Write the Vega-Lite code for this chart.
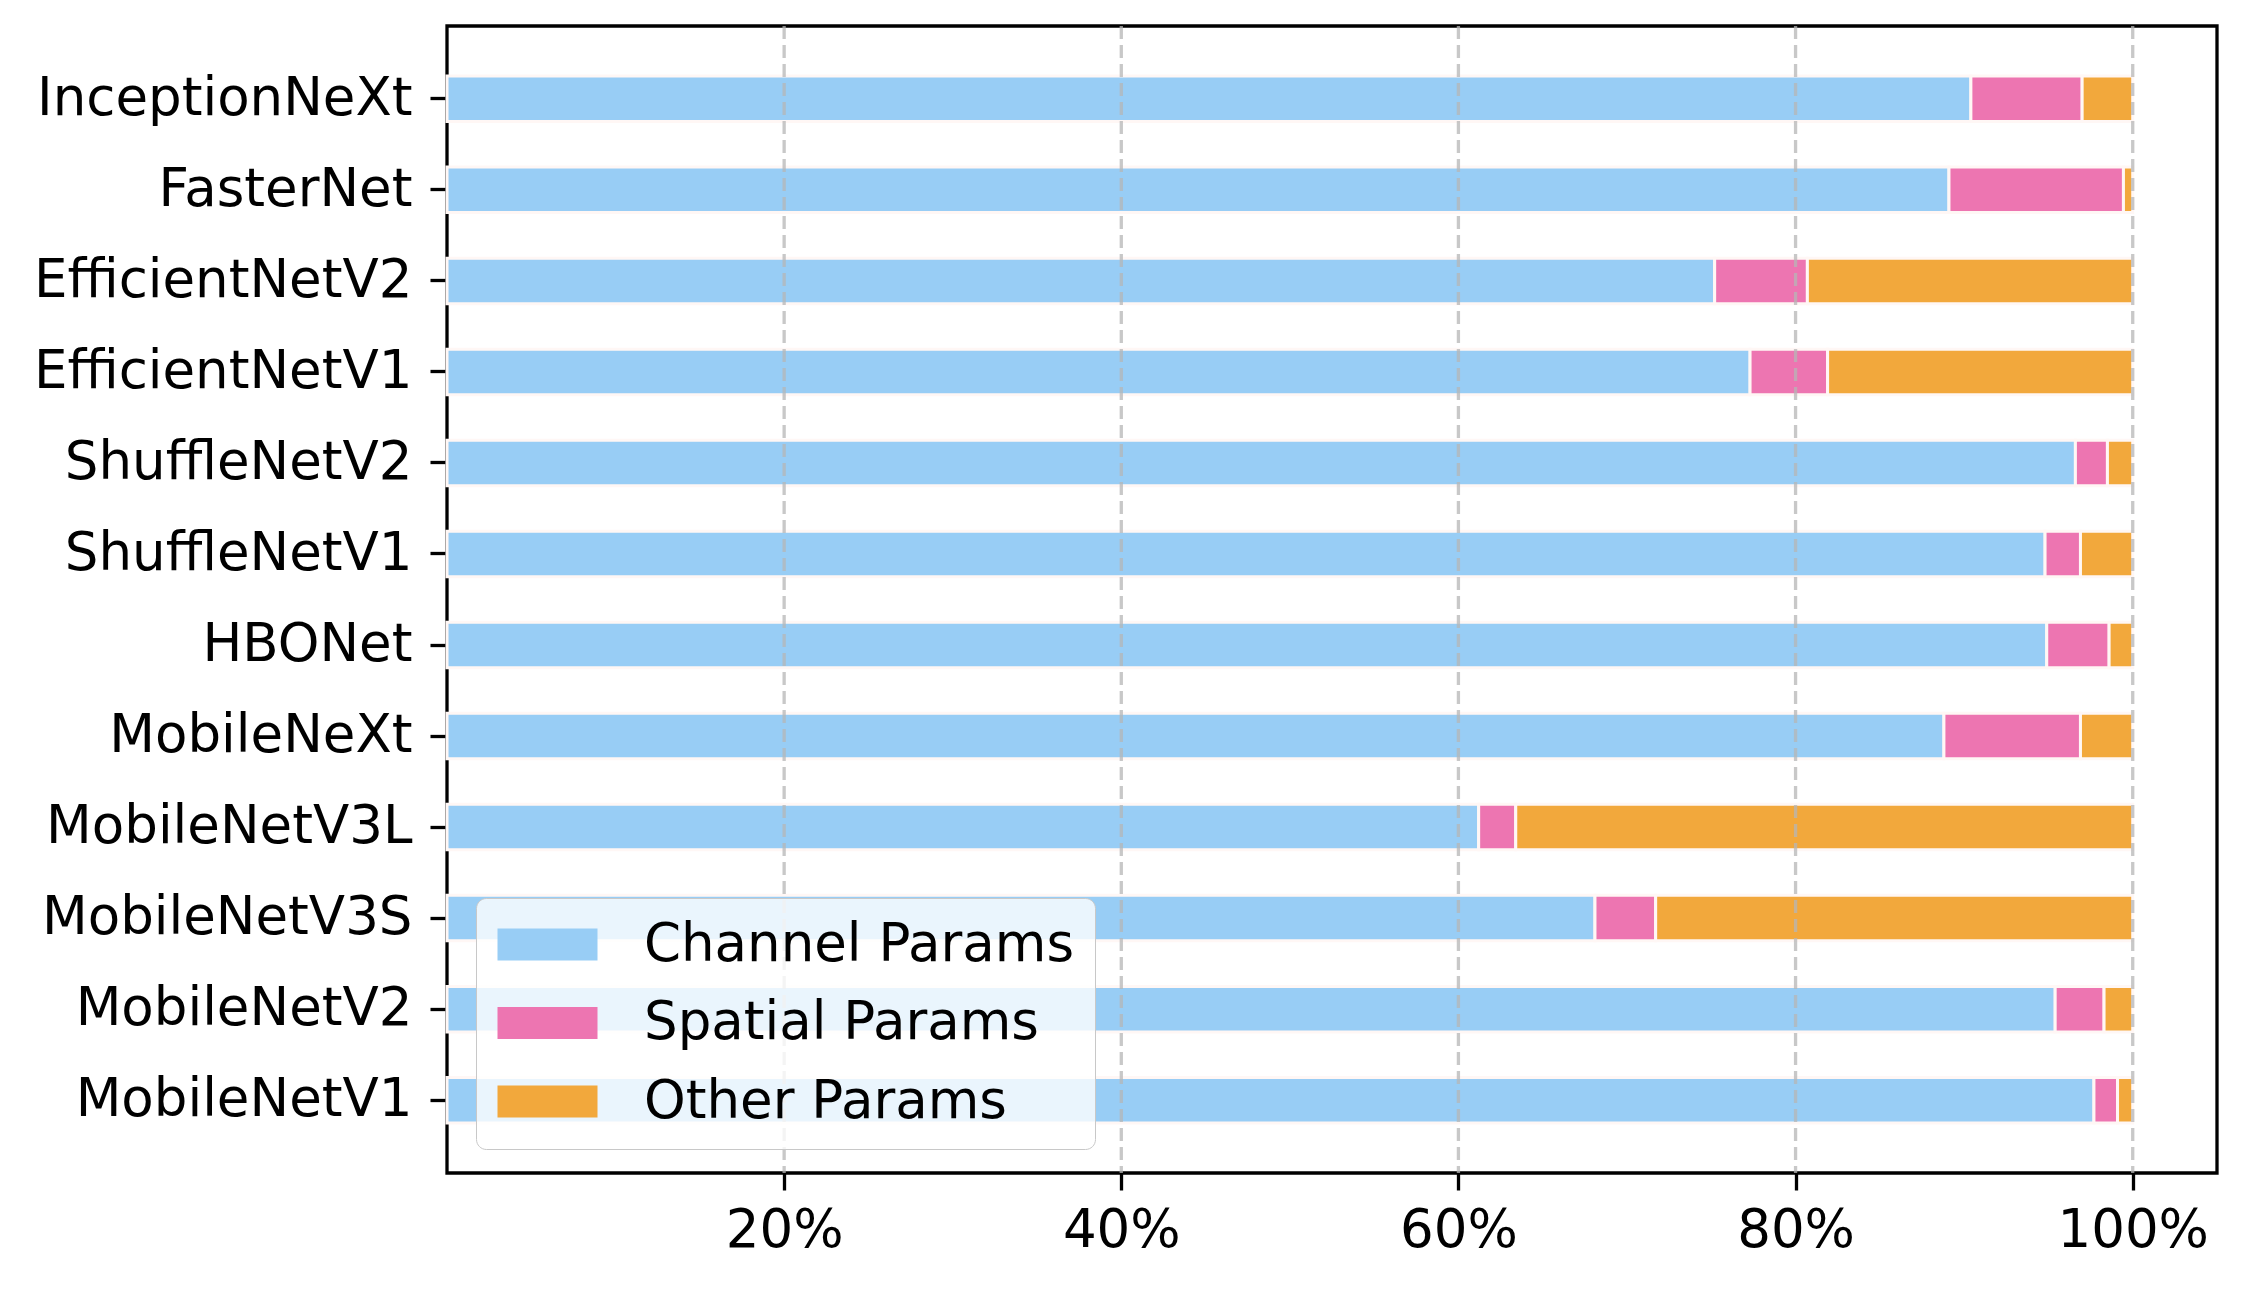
{
  "$schema": "https://vega.github.io/schema/vega-lite/v6.json",
  "width": 1770,
  "height": 1147,
  "autosize": "none",
  "padding": {"left": 447, "top": 26, "right": 51, "bottom": 125},
  "background": "white",
  "datasets": {
    "shares": [
      {"model": "InceptionNeXt", "part": "Channel Params", "share": 0.904},
      {"model": "InceptionNeXt", "part": "Spatial Params", "share": 0.066},
      {"model": "InceptionNeXt", "part": "Other Params", "share": 0.030},
      {"model": "FasterNet", "part": "Channel Params", "share": 0.891},
      {"model": "FasterNet", "part": "Spatial Params", "share": 0.1035},
      {"model": "FasterNet", "part": "Other Params", "share": 0.0055},
      {"model": "EfficientNetV2", "part": "Channel Params", "share": 0.752},
      {"model": "EfficientNetV2", "part": "Spatial Params", "share": 0.055},
      {"model": "EfficientNetV2", "part": "Other Params", "share": 0.193},
      {"model": "EfficientNetV1", "part": "Channel Params", "share": 0.773},
      {"model": "EfficientNetV1", "part": "Spatial Params", "share": 0.046},
      {"model": "EfficientNetV1", "part": "Other Params", "share": 0.181},
      {"model": "ShuffleNetV2", "part": "Channel Params", "share": 0.966},
      {"model": "ShuffleNetV2", "part": "Spatial Params", "share": 0.019},
      {"model": "ShuffleNetV2", "part": "Other Params", "share": 0.015},
      {"model": "ShuffleNetV1", "part": "Channel Params", "share": 0.948},
      {"model": "ShuffleNetV1", "part": "Spatial Params", "share": 0.021},
      {"model": "ShuffleNetV1", "part": "Other Params", "share": 0.031},
      {"model": "HBONet", "part": "Channel Params", "share": 0.949},
      {"model": "HBONet", "part": "Spatial Params", "share": 0.037},
      {"model": "HBONet", "part": "Other Params", "share": 0.014},
      {"model": "MobileNeXt", "part": "Channel Params", "share": 0.888},
      {"model": "MobileNeXt", "part": "Spatial Params", "share": 0.081},
      {"model": "MobileNeXt", "part": "Other Params", "share": 0.031},
      {"model": "MobileNetV3L", "part": "Channel Params", "share": 0.612},
      {"model": "MobileNetV3L", "part": "Spatial Params", "share": 0.022},
      {"model": "MobileNetV3L", "part": "Other Params", "share": 0.366},
      {"model": "MobileNetV3S", "part": "Channel Params", "share": 0.681},
      {"model": "MobileNetV3S", "part": "Spatial Params", "share": 0.036},
      {"model": "MobileNetV3S", "part": "Other Params", "share": 0.283},
      {"model": "MobileNetV2", "part": "Channel Params", "share": 0.954},
      {"model": "MobileNetV2", "part": "Spatial Params", "share": 0.029},
      {"model": "MobileNetV2", "part": "Other Params", "share": 0.017},
      {"model": "MobileNetV1", "part": "Channel Params", "share": 0.977},
      {"model": "MobileNetV1", "part": "Spatial Params", "share": 0.014},
      {"model": "MobileNetV1", "part": "Other Params", "share": 0.009}
    ],
    "gridlines": [
      {"at": 0.2}, {"at": 0.4}, {"at": 0.6}, {"at": 0.8}, {"at": 1.0}
    ]
  },
  "data": {"name": "shares"},
  "layer": [
    {
      "mark": {"type": "bar", "color": "#fff6f4"},
      "encoding": {
        "y": {
          "field": "model",
          "type": "nominal",
          "sort": null,
          "scale": {"paddingInner": 0.5, "paddingOuter": 0.55},
          "axis": {
            "title": null,
            "domain": false,
            "grid": false,
            "ticks": true,
            "tickSize": 17,
            "tickWidth": 3.3,
            "tickColor": "black",
            "labelPadding": 18,
            "labelFontSize": 53,
            "labelColor": "black",
            "labelFont": "DejaVu Sans",
            "labelLimit": 1000
          }
        },
        "x": {
          "aggregate": "sum",
          "field": "share",
          "type": "quantitative",
          "scale": {"domain": [0, 1.05], "nice": false, "zero": true},
          "axis": {
            "title": null,
            "values": [0.2, 0.4, 0.6, 0.8, 1.0],
            "format": ".0%",
            "domain": false,
            "grid": false,
            "ticks": true,
            "tickSize": 17,
            "tickWidth": 3.3,
            "tickColor": "black",
            "labelPadding": 14,
            "labelFontSize": 53,
            "labelColor": "black",
            "labelFont": "DejaVu Sans"
          }
        }
      }
    },
    {
      "transform": [
        {"window": [{"op": "row_number", "as": "seq"}], "groupby": ["model"]}
      ],
      "mark": {"type": "bar", "stroke": "#fff7f5", "strokeWidth": 3},
      "encoding": {
        "y": {"field": "model", "type": "nominal", "sort": null},
        "x": {"field": "share", "type": "quantitative", "stack": "zero"},
        "order": {"field": "seq", "type": "quantitative", "sort": "ascending"},
        "color": {
          "field": "part",
          "type": "nominal",
          "scale": {
            "domain": ["Channel Params", "Spatial Params", "Other Params"],
            "range": ["#98cdf5", "#ed75b1", "#f2a83c"]
          },
          "legend": {
            "title": null,
            "orient": "none",
            "legendX": 29,
            "legendY": 872,
            "padding": 20,
            "rowPadding": 24.5,
            "fillColor": "rgba(255,255,255,0.8)",
            "strokeColor": "#c8c8c8",
            "cornerRadius": 10,
            "symbolType": "M-1,-0.64H3V0.64H-1Z",
            "symbolSize": 2500,
            "symbolStrokeWidth": 0,
            "symbolOpacity": 1,
            "labelOffset": 95,
            "labelFontSize": 53,
            "labelFont": "DejaVu Sans",
            "labelColor": "black",
            "labelLimit": 1000,
            "zindex": 2,
            "encode": {"legend": {"update": {"strokeWidth": {"value": 3}}}}
          }
        }
      }
    },
    {
      "data": {"name": "gridlines"},
      "mark": {
        "type": "rule",
        "color": "#b5b5b5",
        "opacity": 0.75,
        "strokeWidth": 3.3,
        "strokeDash": [13, 6]
      },
      "encoding": {
        "x": {"field": "at", "type": "quantitative"}
      }
    }
  ],
  "config": {
    "view": {"stroke": "black", "strokeWidth": 3.3},
    "font": "DejaVu Sans"
  }
}
